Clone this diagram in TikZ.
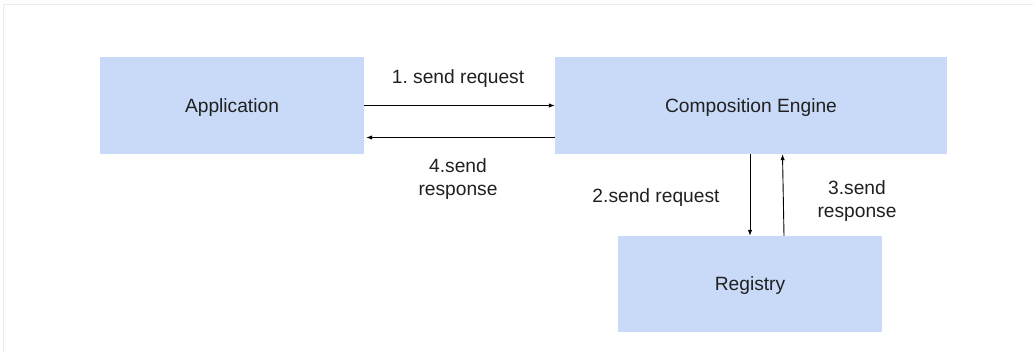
\documentclass[tikz,border=0pt]{standalone}
\usepackage{fontspec}
\setmainfont{Liberation Sans}
\frenchspacing
\usetikzlibrary{arrows.meta}
\definecolor{boxfill}{HTML}{C9DAF8}
\definecolor{txt}{HTML}{202020}
\definecolor{frameline}{HTML}{EBEBEB}
\tikzset{
  block/.style={rectangle, fill=boxfill, draw=none, text=txt,
    font=\fontsize{19.2}{23}\selectfont, inner sep=0pt, text depth=0pt},
  lbl/.style={text=txt, font=\fontsize{19.2}{23}\selectfont, align=center, inner sep=0pt},
  flow/.style={draw=black, line width=0.9pt, -{Latex[length=6pt,width=4.5pt]}}
}
\begin{document}
\begin{tikzpicture}[x=1pt, y=-1pt]
  % canvas and faint frame
  \fill[white] (0,0) rectangle (1033,352);
  \useasboundingbox (0,0) rectangle (1033,352);
  \draw[frameline, line width=0.8pt] (3,352) -- (3,4) -- (1033,4);

  % components
  \node[block, minimum width=264pt, minimum height=97pt] (app) at (232,105.5) {Application};
  \node[block, minimum width=392pt, minimum height=97pt] (ce) at (751,105.5) {Composition Engine};
  \node[block, minimum width=264pt, minimum height=96pt] (reg) at (750,284) {Registry};

  % request / response between application and engine
  \draw[flow] (app.east) -- (ce.west);
  \draw[flow] ([yshift=-32pt]ce.west) -- ([yshift=-32pt,xshift=2pt]app.east);
  \node[lbl] (l1) at (458,78.5) {1. send request};
  \node[lbl] (l4) at (458,179) {4.send\\response};

  % request / response between engine and registry
  \draw[flow] (reg.north |- ce.south) -- (reg.north);
  \draw[flow] ([xshift=34pt]reg.north) -- ([xshift=32.5pt]reg.north |- ce.south);
  \node[lbl] (l2) at (656,197.5) {2.send request};
  \node[lbl] (l3) at (857,201) {3.send\\response};
\end{tikzpicture}
\end{document}
